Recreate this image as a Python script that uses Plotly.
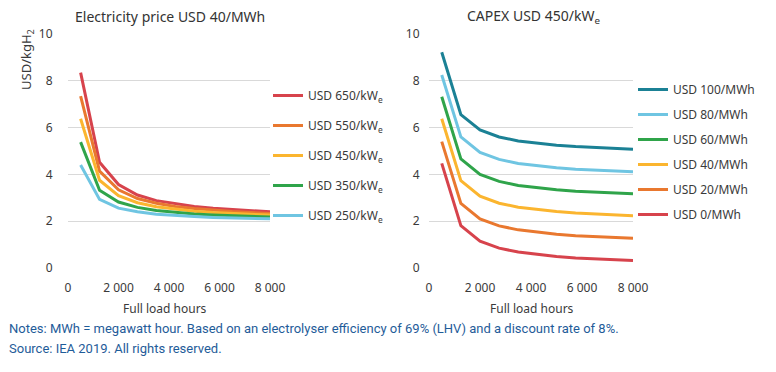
import plotly.graph_objects as go

hours = [500, 1250, 2000, 2750, 3500, 4250, 5000, 5750, 6500, 7250, 8000]

# Left panel: electricity price USD 40/MWh, varying CAPEX
capex_labels = ["USD 650/kW<sub>e</sub>", "USD 550/kW<sub>e</sub>", "USD 450/kW<sub>e</sub>",
                "USD 350/kW<sub>e</sub>", "USD 250/kW<sub>e</sub>"]
capex_650 = [8.35, 4.52, 3.57, 3.12, 2.88, 2.74, 2.63, 2.55, 2.49, 2.44, 2.40]
capex_550 = [7.35, 4.14, 3.34, 2.97, 2.77, 2.63, 2.54, 2.47, 2.41, 2.37, 2.33]
capex_450 = [6.38, 3.75, 3.09, 2.79, 2.62, 2.51, 2.43, 2.37, 2.33, 2.29, 2.26]
capex_350 = [5.38, 3.32, 2.82, 2.59, 2.46, 2.37, 2.31, 2.27, 2.23, 2.21, 2.18]
capex_250 = [4.40, 2.93, 2.56, 2.40, 2.30, 2.24, 2.20, 2.16, 2.14, 2.12, 2.10]
capex_series = [capex_650, capex_550, capex_450, capex_350, capex_250]
capex_colors = ["#d7434c", "#e9782f", "#fbb52f", "#2fa44a", "#6fc5e2"]

# Right panel: CAPEX USD 450/kWe, varying electricity price
elec_labels = ["USD 100/MWh", "USD 80/MWh", "USD 60/MWh", "USD 40/MWh", "USD 20/MWh", "USD 0/MWh"]
elec_100 = [9.22, 6.55, 5.90, 5.60, 5.43, 5.33, 5.25, 5.19, 5.15, 5.11, 5.08]
elec_80 = [8.25, 5.60, 4.94, 4.64, 4.47, 4.36, 4.28, 4.22, 4.18, 4.14, 4.11]
elec_60 = [7.32, 4.66, 4.00, 3.70, 3.53, 3.42, 3.34, 3.28, 3.24, 3.20, 3.17]
elec_40 = [6.38, 3.73, 3.07, 2.77, 2.60, 2.49, 2.41, 2.35, 2.31, 2.27, 2.23]
elec_20 = [5.40, 2.76, 2.10, 1.80, 1.63, 1.52, 1.44, 1.38, 1.34, 1.30, 1.27]
elec_0 = [4.47, 1.81, 1.15, 0.85, 0.68, 0.57, 0.49, 0.43, 0.39, 0.35, 0.32]
elec_series = [elec_100, elec_80, elec_60, elec_40, elec_20, elec_0]
elec_colors = ["#1b8195", "#6fc5e2", "#2fa44a", "#fbb52f", "#e9782f", "#d7434c"]

x_tickvals = [0, 2000, 4000, 6000, 8000]
x_ticktext = ["0", "2 000", "4 000", "6 000", "8 000"]
y_tickvals = [0, 2, 4, 6, 8, 10]

W, H = 776, 372
FONT = "Noto Sans, Open Sans, sans-serif"
TXT = "#3a3a3a"
NOTEFONT = "Roboto, sans-serif"

fig = go.Figure()

for i, (lab, ys, col) in enumerate(zip(capex_labels, capex_series, capex_colors)):
    fig.add_trace(go.Scatter(x=hours, y=ys, mode="lines", name=lab,
                             line=dict(color=col, width=3),
                             xaxis="x", yaxis="y", legend="legend",
                             legendgroup="c%d" % i))

for i, (lab, ys, col) in enumerate(zip(elec_labels, elec_series, elec_colors)):
    fig.add_trace(go.Scatter(x=hours, y=ys, mode="lines", name=lab,
                             line=dict(color=col, width=3),
                             xaxis="x2", yaxis="y2", legend="legend2",
                             legendgroup="e%d" % i))

ydom = [1 - 268 / H, 1 - 34 / H]
tickfont = dict(family=FONT, size=12, color=TXT)


def xax(dom, anchor):
    return dict(domain=dom, range=[0, 8000], tickvals=x_tickvals, ticktext=x_ticktext,
                tickangle=0, ticks="outside", ticklen=9, tickcolor="rgba(0,0,0,0)",
                showline=False, zeroline=False, showgrid=False, tickfont=tickfont,
                anchor=anchor, automargin=False)


def yax(anchor, ticklen):
    return dict(domain=ydom, range=[0, 10], tickvals=y_tickvals,
                ticks="outside", ticklen=ticklen, tickcolor="rgba(0,0,0,0)",
                showline=False, zeroline=False, showgrid=True, gridcolor="#d9d9d9",
                gridwidth=1, tickfont=tickfont, anchor=anchor, automargin=False)


fig.update_layout(
    width=W, height=H, autosize=False,
    margin=dict(l=0, r=0, t=0, b=0, autoexpand=False),
    paper_bgcolor="white", plot_bgcolor="white",
    font=dict(family=FONT, size=12, color=TXT),
    xaxis=xax([68 / W, 270 / W], "y"),
    yaxis=yax("x", 12),
    xaxis2=xax([429 / W, 633 / W], "y2"),
    yaxis2=yax("x2", 6),
    legend=dict(x=268 / W, y=1 - 81 / H,
                xanchor="left", yanchor="top", bgcolor="rgba(0,0,0,0)",
                font=dict(family=FONT, size=12, color=TXT), tracegroupgap=11,
                traceorder="grouped"),
    legend2=dict(x=633 / W, y=1 - 75 / H,
                 xanchor="left", yanchor="top", bgcolor="rgba(0,0,0,0)",
                 font=dict(family=FONT, size=12, color=TXT), tracegroupgap=6,
                 traceorder="grouped"),
    showlegend=True,
)


def ann(text, x, y, size=12, color=TXT, family=FONT, xanchor="center", **kw):
    return dict(text=text, x=x / W, y=1 - y / H, xref="paper", yref="paper",
                xanchor=xanchor, yanchor="middle", showarrow=False,
                font=dict(family=family, size=size, color=color), **kw)


annotations = [
    ann("Electricity price USD 40/MWh", 170, 17, size=14, color="#333333"),
    ann("CAPEX USD 450/kW<sub>e</sub>", 533, 17, size=14, color="#333333"),
    ann("USD/kgH<sub>2</sub>", 27, 60, size=13, textangle=-90),
    ann("Full load hours", 165, 308),
    ann("Full load hours", 532, 308),
    ann("Notes: MWh = megawatt hour. Based on an electrolyser efficiency of 69% (LHV) and a discount rate of 8%.",
        7, 328, size=13, color="#1f5c99", family=NOTEFONT, xanchor="left"),
    ann("Source: IEA 2019. All rights reserved.",
        7, 348, size=13, color="#1f5c99", family=NOTEFONT, xanchor="left"),
]
fig.update_layout(annotations=annotations)

fig.write_html("out.html", config={"displayModeBar": False},
               post_script="document.body.style.margin='0';document.body.style.padding='0';")
